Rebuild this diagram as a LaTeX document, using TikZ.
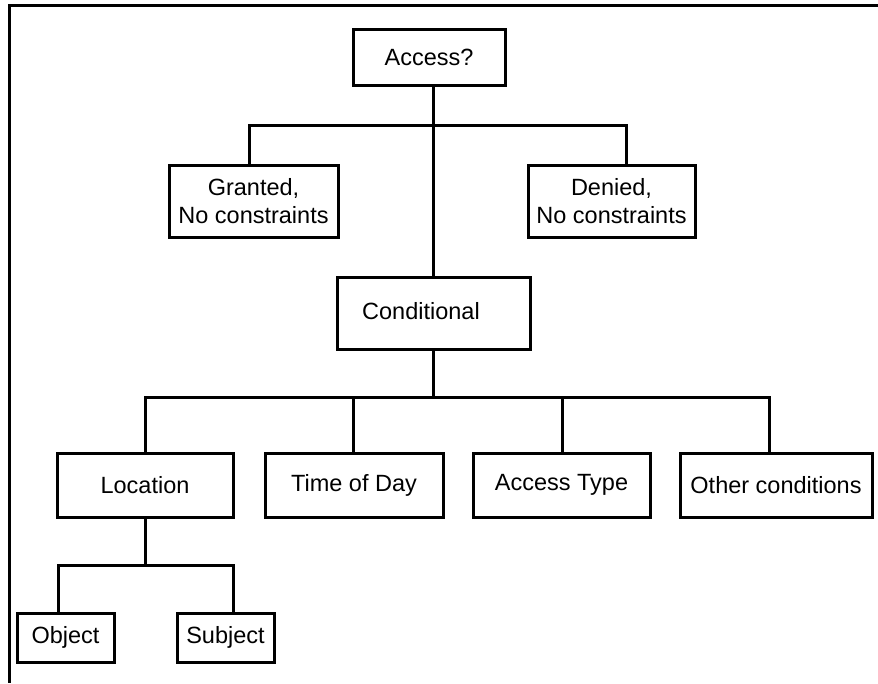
\documentclass[tikz,border=0pt]{standalone}
\usepackage{fontspec}
\setmainfont{Liberation Sans}
\begin{document}
\begin{tikzpicture}[x=1pt,y=-1pt,
  box/.style={draw,line width=3pt,rectangle,inner sep=0pt,align=center,
    font=\fontsize{23.5}{28}\selectfont},
  wire/.style={line width=3pt,line cap=rect},
  frame/.style={line width=3pt}]
\useasboundingbox (0,0) rectangle (878,683);
% frame
\draw[frame] (878,5) -- (9.5,5) -- (9.5,683);
% nodes
\node[box,minimum width=152pt,minimum height=56pt] (access) at (429,57) {Access?};
\node[box,minimum width=169pt,minimum height=72pt] (granted) at (253.5,201) {Granted,\\No constraints};
\node[box,minimum width=167pt,minimum height=72pt] (denied) at (611.5,201) {Denied,\\No constraints};
\node[box,minimum width=193pt,minimum height=72pt] (cond) at (433.5,313) {\raisebox{5pt}{Conditional}\hspace*{25pt}};
\node[box,minimum width=176pt,minimum height=64pt] (loc) at (145,485) {Location};
\node[box,minimum width=178pt,minimum height=64pt] (time) at (354,485) {Time of Day};
\node[box,minimum width=177pt,minimum height=64pt] (atype) at (561.5,485) {Access Type};
\node[box,minimum width=192pt,minimum height=64pt] (other) at (776,485) {Other conditions};
\node[box,minimum width=97pt,minimum height=49pt] (obj) at (65.5,637.5) {Object};
\node[box,minimum width=97pt,minimum height=49pt] (subj) at (225.5,637.5) {Subject};
% junction coordinates
\coordinate (b1l) at (249,125);
\coordinate (b1r) at (626,125);
\coordinate (b2l) at (145,397);
\coordinate (b2t) at (353,397);
\coordinate (b2a) at (562,397);
\coordinate (b2r) at (769,397);
\coordinate (b3l) at (58,565);
\coordinate (b3r) at (233,565);
% connectors
\draw[wire] (cond.north -| 433,0) -- (access.south -| 433,0);
\draw[wire] (b1l |- granted.north) -- (b1l) -- (b1r) -- (b1r |- denied.north);
\draw[wire] (cond.south -| 433,0) -- (433,397);
\draw[wire] (b2l |- loc.north) -- (b2l) -- (b2r) -- (b2r |- other.north);
\draw[wire] (b2t) -- (b2t |- time.north);
\draw[wire] (b2a) -- (b2a |- atype.north);
\draw[wire] (loc.south) -- (loc.south |- b3l);
\draw[wire] (b3l |- obj.north) -- (b3l) -- (b3r) -- (b3r |- subj.north);
\end{tikzpicture}
\end{document}
